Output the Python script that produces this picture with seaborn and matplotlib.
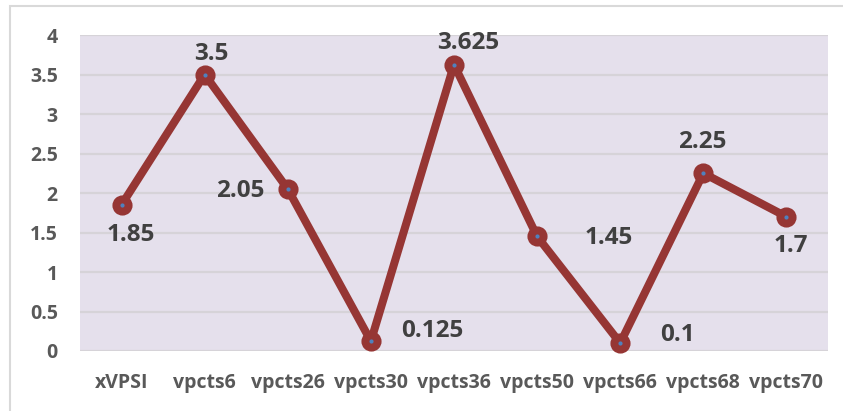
import matplotlib
matplotlib.use("Agg")
import matplotlib.pyplot as plt
import seaborn as sns
import pandas as pd
from matplotlib.patches import Rectangle

categories = ["xVPSI", "vpcts6", "vpcts26", "vpcts30", "vpcts36",
              "vpcts50", "vpcts66", "vpcts68", "vpcts70"]
values = [1.85, 3.5, 2.05, 0.125, 3.625, 1.45, 0.1, 2.25, 1.7]
value_labels = ["1.85", "3.5", "2.05", "0.125", "3.625", "1.45", "0.1", "2.25", "1.7"]

# label offsets in pixels (dx, dy) relative to each point
label_offsets = [(9, -30), (7, 21), (-48, -2), (61, 10), (14, 22),
                 (72, -2), (57, 8), (-1, 31), (4, -29)]

df = pd.DataFrame({"cat": categories, "val": values})
df["x"] = range(len(categories))

sns.set_style("white")
plt.rcParams["font.family"] = ["Open Sans", "DejaVu Sans"]

fig = plt.figure(figsize=(8.43, 4.11), dpi=100)
ax = fig.add_axes([80 / 843, 1 - 351 / 411, 748 / 843, 316 / 411])

# outer chart border
fig.patches.append(Rectangle((10 / 843, -0.05), 1.2, 1 - 6 / 411 + 0.05,
                             transform=fig.transFigure, fill=False,
                             edgecolor="#d9d9d9", linewidth=1.5))

ax.set_facecolor("#e5e0ec")
for s in ax.spines.values():
    s.set_visible(False)

ax.set_ylim(0, 4)
ax.set_xlim(-0.5, len(categories) - 0.5)
ax.set_yticks([0, 0.5, 1, 1.5, 2, 2.5, 3, 3.5, 4])
ax.set_yticklabels(["0", "0.5", "1", "1.5", "2", "2.5", "3", "3.5", "4"])
ax.yaxis.grid(True, color="#d6d3d8", linewidth=1.6)
ax.set_axisbelow(True)

red = "#963634"
sns.lineplot(data=df, x="x", y="val", ax=ax, color=red, linewidth=5.8,
             marker="o", markersize=13, markeredgewidth=1.5,
             markerfacecolor=red, markeredgecolor=red, clip_on=False, zorder=3)
sns.scatterplot(data=df, x="x", y="val", ax=ax, color="#4f81bd", s=9,
                linewidth=0, zorder=4, clip_on=False)

for xi, v, lab, (dx, dy) in zip(df["x"], values, value_labels, label_offsets):
    ax.annotate(lab, (xi, v), xytext=(dx, dy), textcoords="offset pixels",
                ha="center", va="center", fontsize=17.5, fontweight="bold",
                color="#404040", zorder=5)

ax.set_xticks(df["x"])
ax.set_xticklabels(categories)
ax.tick_params(axis="both", length=0, labelsize=14, labelcolor="#595959")
ax.tick_params(axis="y", pad=16)
ax.tick_params(axis="x", pad=16)
for t in ax.get_xticklabels() + ax.get_yticklabels():
    t.set_fontweight("bold")
ax.set_xlabel("")
ax.set_ylabel("")

fig.savefig("out.png", dpi=100, facecolor="white")
